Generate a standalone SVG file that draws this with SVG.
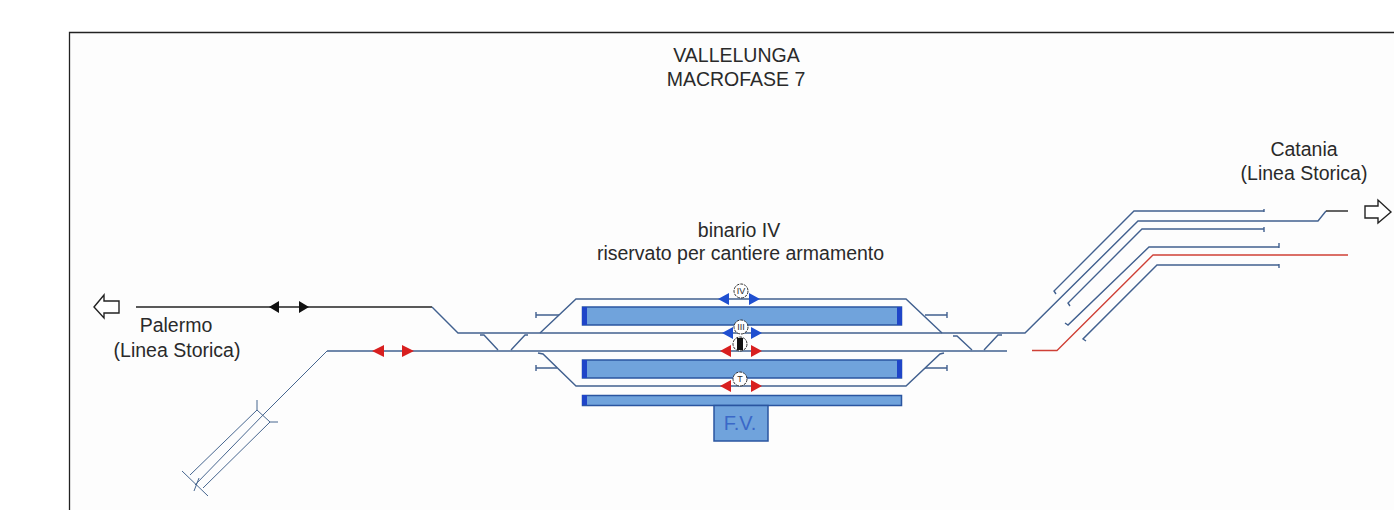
<svg xmlns="http://www.w3.org/2000/svg" width="1394" height="510" viewBox="0 0 1394 510">
<defs><style>
text{font-family:"Liberation Sans",Arial,sans-serif;font-size:19.500px;fill:#2a2a2a;text-anchor:middle}
.t{fill:none;stroke:#41608f;stroke-width:1.400}
.k{fill:none;stroke:#222;stroke-width:1.400}
.r{fill:none;stroke:#cf4036;stroke-width:1.300}
.thin{fill:none;stroke:#47668f;stroke-width:1}
.p{fill:#70a3dc;stroke:#2a55a0;stroke-width:1.500}
.e{fill:#1f45c8}
.ab{fill:#1f4fd0}.ar{fill:#d81f1f}.ak{fill:#111}
.o{fill:#fff;stroke:#333;stroke-width:1;stroke-dasharray:3 1}
.g{font-size:9px}
</style></defs>
<rect width="1394" height="510" fill="#fff"/>
<rect x="70" y="33" width="1324" height="477" fill="#fdfdfd"/>
<path d="M69.500 510V32.500H1394" fill="none" stroke="#222" stroke-width="1.300"/>
<g id="labels">
<text x="736.500" y="62">VALLELUNGA</text>
<text x="736" y="86">MACROFASE 7</text>
<text x="739" y="237">binario IV</text>
<text x="740.500" y="260">riservato per cantiere armamento</text>
<text x="1304" y="156">Catania</text>
<text x="1304" y="180">(Linea Storica)</text>
<text x="176" y="332">Palermo</text>
<text x="177" y="357">(Linea Storica)</text>
</g>
<g id="platforms">
<g id="platform-top"><rect class="p" x="582.500" y="307" width="319" height="18"/><rect class="e" x="582" y="307" width="5" height="18"/><rect class="e" x="897" y="307" width="5" height="18"/></g>
<g id="platform-mid"><rect class="p" x="582.500" y="360" width="319" height="18"/><rect class="e" x="582" y="360" width="5" height="18"/><rect class="e" x="897" y="360" width="5" height="18"/></g>
<g id="platform-low"><rect class="p" x="582.500" y="395.500" width="319" height="10"/><rect class="e" x="582" y="395" width="5" height="10"/></g>
<g id="fv"><rect class="p" x="714" y="405.500" width="54" height="35.500"/><text x="740" y="430" style="fill:#3a68c8;font-size:20px">F.V.</text></g>
</g>
<g id="connectors">
<path class="k" d="M136 307H432"/>
<path class="t" d="M432 307L458 333H1025L1138 221H1318L1326 211"/>
<path class="k" d="M1326 211H1348"/>
<path class="t" d="M327 351H1007"/>
<path class="thin" d="M327 351L265 413L195 485"/>
<path class="thin" d="M257 400V410L190 475M182 471L208 496M257 410L270 422H278M270 422L203 488M199 478L194 491"/>
<path class="t" d="M540 333L576 299H906L942 333"/>
<path class="t" d="M538 353L543 354L576 386H906L940 354L944 353"/>
<path class="t" d="M480 335H484L498 350M511 350L525 335H528M953 336H957L972 350M984 350L998 335H1002"/>
<path class="t" d="M559 315H536M536 312V318M557 368H536M536 365V371M925 315H947M947 312V318M925 368H947M947 365V371"/>
<path class="t" d="M1264 209V212V211H1134L1054 291L1056 294"/>
<path class="t" d="M1264 227V232V229H1142L1068 303L1070 306"/>
<path class="t" d="M1279 243V248V247H1149L1068 325L1065 323"/>
<path class="t" d="M1279 264V268V265H1157L1083 339L1086 341"/>
<path class="r" d="M1032 350.500H1057L1153 255H1348"/>
</g>
<g id="signal-iv"><circle class="o" cx="741" cy="291" r="7"/><text class="g" x="741" y="294">IV</text><path class="ab" d="M729 293V305L718 299ZM749 293V305L760 299Z"/></g>
<g id="signal-iii"><circle class="o" cx="741" cy="327" r="7"/><text class="g" x="741" y="330">III</text><path class="ab" d="M733 327V339L722 333ZM751 327V339L762 333Z"/></g>
<g id="signal-i"><circle class="o" cx="740" cy="344" r="7"/><rect x="737" y="338" width="6" height="12" fill="#111"/><path class="ar" d="M731 345V357L720 351ZM751 345V357L762 351Z"/></g>
<g id="signal-v"><circle class="o" cx="740" cy="379" r="7"/><text class="g" x="740" y="382">T</text><path class="ar" d="M731 380V392L720 386ZM751 380V392L762 386Z"/></g>
<g id="arrows-black"><path class="ak" d="M279 301V313L269 307ZM299 301V313L309 307Z"/></g>
<g id="arrows-red"><path class="ar" d="M384 345V357L372 351ZM402 345V357L414 351Z"/></g>
<g id="to-palermo"><path fill="#fff" stroke="#222" stroke-width="1.400" d="M94 307L104 295V301H119V313H104V318Z"/></g>
<g id="to-catania"><path fill="#fff" stroke="#222" stroke-width="1.400" d="M1391 212L1378 200V206H1365V218H1378V223Z"/></g>
</svg>
